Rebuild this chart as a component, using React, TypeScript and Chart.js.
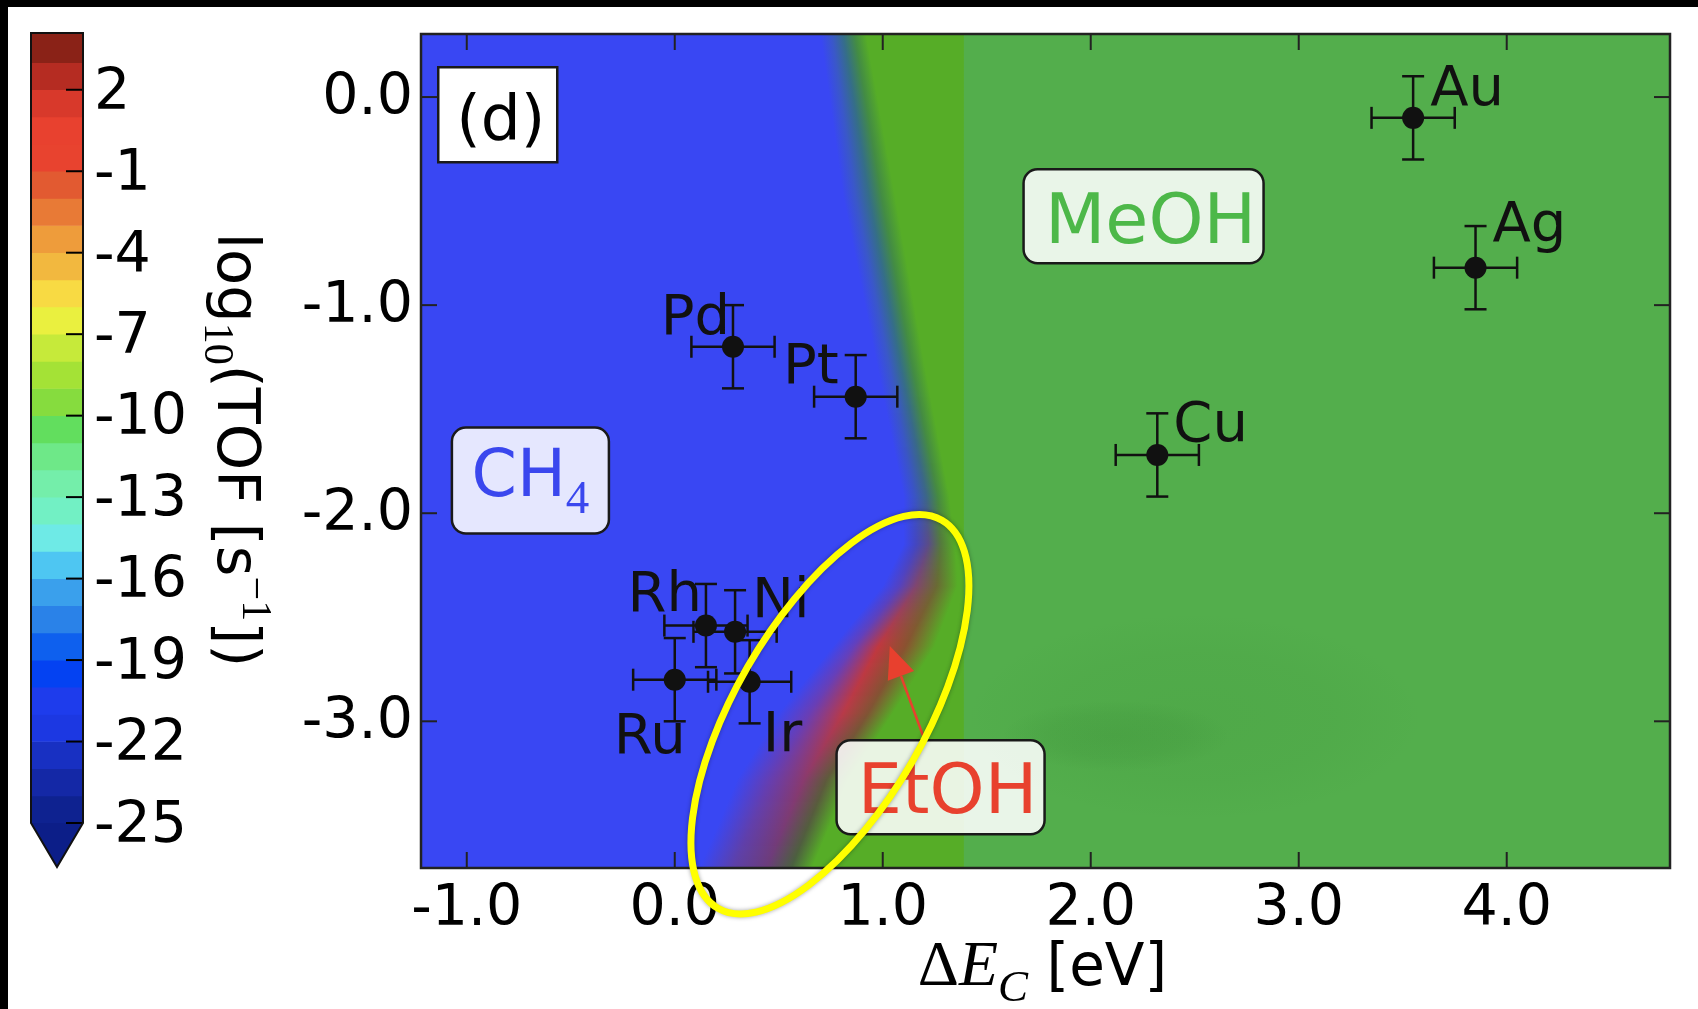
import React, { useEffect, useRef } from 'react';
import { Chart, registerables } from 'chart.js';

Chart.register(...registerables);

const PAGE_W = 1698;
const PAGE_H = 1009;

// ---------------- data: catalysts ----------------
const metalNames = ['Au', 'Ag', 'Cu', 'Pd', 'Pt', 'Rh', 'Ni', 'Ru', 'Ir'];
const metalX = [3.55, 3.85, 2.32, 0.28, 0.87, 0.15, 0.29, 0.0, 0.36];
const metalY = [-0.1, -0.82, -1.72, -1.2, -1.44, -2.54, -2.57, -2.8, -2.81];
const metalXErr = [0.2, 0.2, 0.2, 0.2, 0.2, 0.2, 0.2, 0.2, 0.2];
const metalYErr = [0.2, 0.2, 0.2, 0.2, 0.2, 0.2, 0.2, 0.2, 0.2];

// ---------------- axes ----------------
const xTickValues = [-1, 0, 1, 2, 3, 4];
const yTickValues = [0, -1, -2, -3];
const xLimits = [-1.22, 4.785];
const yLimits = [-3.705, 0.303];

// ---------------- colour bar (log10 TOF levels) ----------------
const cbBandLow = [3, 2, 1, 0, -1, -2, -3, -4, -5, -6, -7, -8, -9, -10, -11, -12, -13, -14, -15, -16, -17, -18, -19, -20, -21, -22, -23, -24, -25];
const cbBandHigh = [4.09, 3, 2, 1, 0, -1, -2, -3, -4, -5, -6, -7, -8, -9, -10, -11, -12, -13, -14, -15, -16, -17, -18, -19, -20, -21, -22, -23, -24];
const cbBandColor = [
  '#8a2217', '#b52c22', '#d8392b', '#e8412f', '#e8432f', '#e25a31', '#e87a36', '#ee9c3b',
  '#f2b83f', '#f8da43', '#eaf03f', '#c6ea3a', '#a4e236', '#86dc3e', '#62de5e', '#6ee888',
  '#74eeaa', '#72f0c4', '#6eeae6', '#4ec6f2', '#3aa0ec', '#2a82e8', '#0e60ee', '#0442f2',
  '#1e3cec', '#1c38e2', '#1830c2', '#1428a6', '#0e2290'
];
const cbTickValues = [2, -1, -4, -7, -10, -13, -16, -19, -22, -25];
const cbLimits = [-25, 4.09];
const cbExtendColor = '#0c1e88';

// ---------------- selectivity map (rows of colour stops, data units) ----------------
const mapRowY = [0.303, -0.48, -1.28, -1.92, -2.15, -2.35, -2.64, -2.96, -3.28, -3.705];
const mapBlueEndX = [0.70, 0.81, 0.97, 1.10, 1.10, 1.00, 0.76, 0.50, 0.30, 0.12];
const mapStop1X = [0.755, 0.87, 1.03, 1.155, 1.16, 1.08, 0.86, 0.65, 0.46, 0.28];
const mapStop2X = [0.81, 0.935, 1.085, 1.21, 1.22, 1.16, 0.98, 0.81, 0.62, 0.44];
const mapStop3X = [0.865, 0.995, 1.14, 1.265, 1.28, 1.26, 1.11, 0.93, 0.73, 0.56];
const mapGreenStartX = [0.92, 1.06, 1.20, 1.32, 1.35, 1.36, 1.25, 1.05, 0.84, 0.66];
const mapStop1Color = ['#3a58c8', '#3a58c8', '#3a58c8', '#3a54c4', '#4446c0', '#5542c0', '#6440bc', '#6a3eb4', '#663eb0', '#5c40a8'];
const mapStop2Color = ['#356e88', '#356e88', '#356e88', '#3c6688', '#5a4c88', '#80466e', '#c0383e', '#b83a48', '#8a3a6e', '#6a3c7c'];
const mapStop3Color = ['#438c44', '#438c44', '#438c44', '#468a42', '#557a3c', '#6a6a34', '#8a5230', '#805434', '#5e5a3c', '#4a6040'];
const mapPhaseStepX = 1.39;
const mapBlue = '#3947f3';
const mapYellowGreen = '#56ad27';
const mapGreen = '#53ae4c';
const blobX = [2.5, 2.12];
const blobY = [-2.98, -3.07];
const blobRX = [1.1, 0.55];
const blobRY = [0.5, 0.17];
const blobAlpha = [0.07, 0.12];

// ---------------- annotations (layout / style) ----------------
const labelPlacement = [
  { align: 'left', dx: 17, dy: -13 },
  { align: 'left', dx: 17, dy: -27 },
  { align: 'left', dx: 16, dy: -14 },
  { align: 'right', dx: -3, dy: -13 },
  { align: 'right', dx: -17, dy: -14 },
  { align: 'right', dx: -4, dy: -15 },
  { align: 'left', dx: 17, dy: -15 },
  { align: 'right', dx: 11, dy: 73 },
  { align: 'left', dx: 13, dy: 69 }
];
const boxes = [
  { x: -0.851, y: -0.085, w: 119, h: 95, r: 0, fill: '#ffffff', color: '#000', size: 63, parts: [{ t: '(d)' }], base: 24, dx: 3 },
  { x: -0.694, y: -1.843, w: 157, h: 106, r: 14, fill: 'rgba(255,255,255,0.87)', color: '#3a47ee', size: 65, parts: [{ t: 'CH' }, { t: '4', sub: true }], base: 15, dx: 0 },
  { x: 2.254, y: -0.573, w: 240, h: 94, r: 14, fill: 'rgba(255,255,255,0.87)', color: '#4db849', size: 70, parts: [{ t: 'MeOH' }], base: 27, dx: 7 },
  { x: 1.278, y: -3.317, w: 208, h: 94, r: 14, fill: 'rgba(255,255,255,0.87)', color: '#e8412e', size: 70, parts: [{ t: 'EtOH' }], base: 26, dx: 7 }
];
const arrowTip = { x: 1.034, y: -2.638 };
const arrowTail = { x: 1.202, y: -3.091 };
const ellipseCenter = { x: 0.746, y: -2.966 };

function hexRgb(h: string) {
  const n = parseInt(h.slice(1), 16);
  return [(n >> 16) & 255, (n >> 8) & 255, n & 255];
}
function mixHex(a: string, b: string, t: number) {
  const A = hexRgb(a), B = hexRgb(b);
  const c = A.map((v, i) => Math.round(v + (B[i] - v) * t));
  return `rgb(${c[0]},${c[1]},${c[2]})`;
}
function interpRow(y: number) {
  const n = mapRowY.length;
  let i = 0, t = 0;
  if (y >= mapRowY[0]) { i = 0; t = 0; }
  else if (y <= mapRowY[n - 1]) { i = n - 2; t = 1; }
  else {
    for (i = 0; i < n - 1; i++) if (y <= mapRowY[i] && y >= mapRowY[i + 1]) break;
    t = (mapRowY[i] - y) / (mapRowY[i] - mapRowY[i + 1]);
  }
  const L = (arr: number[]) => arr[i] + (arr[i + 1] - arr[i]) * t;
  const C = (arr: string[]) => mixHex(arr[i], arr[i + 1], t);
  return {
    be: L(mapBlueEndX), s1: L(mapStop1X), s2: L(mapStop2X), s3: L(mapStop3X), gs: L(mapGreenStartX),
    c1: C(mapStop1Color), c2: C(mapStop2Color), c3: C(mapStop3Color)
  };
}

function line(ctx: CanvasRenderingContext2D, x1: number, y1: number, x2: number, y2: number) {
  ctx.beginPath(); ctx.moveTo(x1, y1); ctx.lineTo(x2, y2); ctx.stroke();
}
function roundRect(ctx: CanvasRenderingContext2D, x: number, y: number, w: number, h: number, r: number) {
  ctx.beginPath();
  ctx.moveTo(x + r, y);
  ctx.lineTo(x + w - r, y); ctx.arcTo(x + w, y, x + w, y + r, r);
  ctx.lineTo(x + w, y + h - r); ctx.arcTo(x + w, y + h, x + w - r, y + h, r);
  ctx.lineTo(x + r, y + h); ctx.arcTo(x, y + h, x, y + h - r, r);
  ctx.lineTo(x, y + r); ctx.arcTo(x, y, x + r, y, r);
  ctx.closePath();
}
type Part = { text: string; font: string; dy: number };
function richWidth(ctx: CanvasRenderingContext2D, parts: Part[]) {
  let w = 0;
  for (const p of parts) { ctx.font = p.font; w += ctx.measureText(p.text).width; }
  return w;
}
function drawRich(ctx: CanvasRenderingContext2D, parts: Part[], x: number, y: number) {
  for (const p of parts) { ctx.font = p.font; ctx.fillText(p.text, x, y + p.dy); x += ctx.measureText(p.text).width; }
}

const mapPlugin = {
  id: 'selectivityMap',
  beforeDatasetsDraw(chart: any) {
    const { ctx, chartArea: a, scales } = chart;
    const xs = scales.x, ys = scales.y;
    ctx.save();
    ctx.beginPath(); ctx.rect(a.left, a.top, a.right - a.left, a.bottom - a.top); ctx.clip();
    ctx.fillStyle = mapGreen;
    ctx.fillRect(a.left, a.top, a.right - a.left, a.bottom - a.top);
    const xStep = xs.getPixelForValue(mapPhaseStepX);
    ctx.save();
    ctx.beginPath(); ctx.rect(xStep, a.top, a.right - xStep, a.bottom - a.top); ctx.clip();
    blobX.forEach((bx, i) => {
      const cx = xs.getPixelForValue(bx), cy = ys.getPixelForValue(blobY[i]);
      const rx = Math.abs(xs.getPixelForValue(bx + blobRX[i]) - cx);
      const ry = Math.abs(ys.getPixelForValue(blobY[i] + blobRY[i]) - cy);
      ctx.save();
      ctx.translate(cx, cy); ctx.scale(1, ry / rx);
      const g = ctx.createRadialGradient(0, 0, 0, 0, 0, rx);
      g.addColorStop(0, `rgba(30,105,30,${blobAlpha[i]})`);
      g.addColorStop(0.6, `rgba(30,105,30,${blobAlpha[i] * 0.65})`);
      g.addColorStop(1, 'rgba(30,105,30,0)');
      ctx.fillStyle = g;
      ctx.beginPath(); ctx.arc(0, 0, rx, 0, Math.PI * 2); ctx.fill();
      ctx.restore();
    });
    ctx.restore();
    const xL = a.left;
    const span = xStep - xL;
    const tOf = (v: number) => Math.min(1, Math.max(0, (xs.getPixelForValue(v) - xL) / span));
    for (let py = Math.floor(a.top); py < a.bottom; py++) {
      const r = interpRow(ys.getValueForPixel(py + 0.5));
      const g = ctx.createLinearGradient(xL, 0, xStep, 0);
      g.addColorStop(0, mapBlue);
      g.addColorStop(tOf(r.be), mapBlue);
      g.addColorStop(tOf(r.s1), r.c1);
      g.addColorStop(tOf(r.s2), r.c2);
      g.addColorStop(tOf(r.s3), r.c3);
      g.addColorStop(tOf(r.gs), mapYellowGreen);
      g.addColorStop(1, mapYellowGreen);
      ctx.fillStyle = g;
      ctx.fillRect(xL, py, span, 1);
    }
    ctx.restore();

    ctx.save();
    ctx.strokeStyle = '#111';
    ctx.lineWidth = 2.5;
    const cap = 11;
    metalNames.forEach((_, i) => {
      const px = xs.getPixelForValue(metalX[i]), py = ys.getPixelForValue(metalY[i]);
      const x0 = xs.getPixelForValue(metalX[i] - metalXErr[i]), x1 = xs.getPixelForValue(metalX[i] + metalXErr[i]);
      const y0 = ys.getPixelForValue(metalY[i] - metalYErr[i]), y1 = ys.getPixelForValue(metalY[i] + metalYErr[i]);
      line(ctx, x0, py, x1, py);
      line(ctx, px, y0, px, y1);
      line(ctx, x0, py - cap, x0, py + cap);
      line(ctx, x1, py - cap, x1, py + cap);
      line(ctx, px - cap, y0, px + cap, y0);
      line(ctx, px - cap, y1, px + cap, y1);
    });
    ctx.restore();
  },
  afterDatasetsDraw(chart: any) {
    const { ctx, chartArea: a, scales } = chart;
    const xs = scales.x, ys = scales.y;
    ctx.save();
    ctx.fillStyle = '#111';
    ctx.font = '56px "DejaVu Sans"';
    ctx.textBaseline = 'alphabetic';
    metalNames.forEach((n, i) => {
      const px = xs.getPixelForValue(metalX[i]), py = ys.getPixelForValue(metalY[i]);
      const st = labelPlacement[i];
      ctx.textAlign = st.align as CanvasTextAlign;
      ctx.fillText(n, px + st.dx, py + st.dy);
    });
    const tx = xs.getPixelForValue(arrowTip.x), ty = ys.getPixelForValue(arrowTip.y);
    const sx = xs.getPixelForValue(arrowTail.x), sy = ys.getPixelForValue(arrowTail.y);
    const ang = Math.atan2(ty - sy, tx - sx);
    const hl = 32, hw = 14;
    const bx = tx - hl * Math.cos(ang), by = ty - hl * Math.sin(ang);
    ctx.strokeStyle = '#e8402e'; ctx.fillStyle = '#e8402e'; ctx.lineWidth = 2.5;
    line(ctx, sx, sy, bx, by);
    ctx.beginPath();
    ctx.moveTo(tx, ty);
    ctx.lineTo(bx + hw * Math.sin(ang), by - hw * Math.cos(ang));
    ctx.lineTo(bx - hw * Math.sin(ang), by + hw * Math.cos(ang));
    ctx.closePath(); ctx.fill();
    ctx.textAlign = 'left';
    boxes.forEach((b) => {
      const cx = xs.getPixelForValue(b.x), cy = ys.getPixelForValue(b.y);
      const x = cx - b.w / 2, y = cy - b.h / 2;
      if (b.r > 0) roundRect(ctx, x, y, b.w, b.h, b.r); else { ctx.beginPath(); ctx.rect(x, y, b.w, b.h); }
      ctx.fillStyle = b.fill; ctx.fill();
      ctx.strokeStyle = '#1a1a1a'; ctx.lineWidth = 2.5; ctx.stroke();
      const parts: Part[] = b.parts.map((p: any) => p.sub
        ? { text: p.t, font: `${Math.round(b.size * 0.72)}px "Liberation Serif"`, dy: 17 }
        : { text: p.t, font: `${b.size}px "DejaVu Sans"`, dy: 0 });
      const w = richWidth(ctx, parts);
      ctx.fillStyle = b.color;
      drawRich(ctx, parts, cx - w / 2 + b.dx, cy + b.base);
    });
    ctx.strokeStyle = '#222'; ctx.lineWidth = 2;
    const tl = 16;
    xTickValues.forEach((v) => {
      const p = xs.getPixelForValue(v);
      line(ctx, p, a.bottom, p, a.bottom - tl);
      line(ctx, p, a.top, p, a.top + tl);
    });
    yTickValues.forEach((v) => {
      const p = ys.getPixelForValue(v);
      line(ctx, a.left, p, a.left + tl, p);
      line(ctx, a.right, p, a.right - tl, p);
    });
    ctx.lineWidth = 2.5;
    ctx.strokeRect(a.left, a.top, a.right - a.left, a.bottom - a.top);
    ctx.restore();
  },
  afterDraw(chart: any) {
    const { ctx, chartArea: a, scales } = chart;
    const xs = scales.x, ys = scales.y;
    ctx.save();
    const parts: Part[] = [
      { text: 'Δ', font: '64px "Liberation Serif"', dy: 0 },
      { text: 'E', font: 'italic 64px "Liberation Serif"', dy: 0 },
      { text: 'C', font: 'italic 45px "Liberation Serif"', dy: 16 },
      { text: ' [eV]', font: '58px "DejaVu Sans"', dy: 0 }
    ];
    ctx.fillStyle = '#000';
    ctx.textAlign = 'left'; ctx.textBaseline = 'alphabetic';
    const w = richWidth(ctx, parts);
    drawRich(ctx, parts, (a.left + a.right) / 2 - w / 2 - 3, 985);
    const cx = xs.getPixelForValue(ellipseCenter.x), cy = ys.getPixelForValue(ellipseCenter.y);
    ctx.shadowColor = 'rgba(0,0,0,0.35)';
    ctx.shadowBlur = 4;
    ctx.strokeStyle = '#ffff00';
    ctx.lineWidth = 7;
    ctx.beginPath();
    ctx.ellipse(cx, cy, 224, 95, -Math.PI / 3, 0, Math.PI * 2);
    ctx.stroke();
    ctx.restore();
  }
};

const cbPlugin = {
  id: 'colorbarDecor',
  afterDatasetsDraw(chart: any) {
    const { ctx, chartArea: a, scales } = chart;
    const y = scales.y;
    const cx = (a.left + a.right) / 2;
    const tipY = a.bottom + 44;
    ctx.save();
    ctx.fillStyle = cbExtendColor;
    ctx.beginPath(); ctx.moveTo(a.left, a.bottom); ctx.lineTo(a.right, a.bottom); ctx.lineTo(cx, tipY); ctx.closePath(); ctx.fill();
    ctx.strokeStyle = '#000'; ctx.lineWidth = 2;
    cbTickValues.forEach((v) => { const p = y.getPixelForValue(v); line(ctx, a.right, p, a.right - 17, p); });
    ctx.strokeStyle = '#111'; ctx.lineWidth = 2;
    ctx.beginPath();
    ctx.moveTo(a.left, a.top); ctx.lineTo(a.right, a.top); ctx.lineTo(a.right, a.bottom);
    ctx.lineTo(cx, tipY); ctx.lineTo(a.left, a.bottom); ctx.closePath(); ctx.stroke();
    ctx.restore();
  },
  afterDraw(chart: any) {
    const { ctx, chartArea: a } = chart;
    const parts: Part[] = [
      { text: 'log', font: '59px "DejaVu Sans"', dy: 0 },
      { text: '10', font: '42px "Liberation Serif"', dy: 13 },
      { text: '(TOF [s', font: '59px "DejaVu Sans"', dy: 0 },
      { text: '−1', font: '42px "Liberation Serif"', dy: -25 },
      { text: '])', font: '59px "DejaVu Sans"', dy: 0 }
    ];
    ctx.save();
    ctx.fillStyle = '#000';
    ctx.textAlign = 'left'; ctx.textBaseline = 'alphabetic';
    const w = richWidth(ctx, parts);
    ctx.translate(218, (a.top + a.bottom + 44) / 2);
    ctx.rotate(Math.PI / 2);
    drawRich(ctx, parts, -w / 2, 0);
    ctx.restore();
  }
};

function noEdgePadding(s: any) {
  s.paddingTop = 0; s.paddingBottom = 0; s.paddingLeft = 0; s.paddingRight = 0;
}

export default function App() {
  const mainRef = useRef<HTMLCanvasElement>(null);
  const cbRef = useRef<HTMLCanvasElement>(null);

  useEffect(() => {
    Chart.defaults.font.family = 'DejaVu Sans';
    const main = new Chart(mainRef.current as HTMLCanvasElement, {
      type: 'scatter',
      data: {
        datasets: [{
          data: metalNames.map((_, i) => ({ x: metalX[i], y: metalY[i] })),
          pointRadius: 11,
          pointHoverRadius: 11,
          backgroundColor: '#111',
          borderWidth: 0
        }]
      },
      options: {
        responsive: false,
        animation: false,
        devicePixelRatio: 1,
        events: [],
        layout: { padding: { left: 0, top: 34, right: 28, bottom: 0 } },
        plugins: { legend: { display: false }, tooltip: { enabled: false } },
        scales: {
          x: {
            type: 'linear', min: xLimits[0], max: xLimits[1],
            grid: { display: false, drawTicks: false }, border: { display: false },
            afterBuildTicks: (s: any) => { s.ticks = xTickValues.map((v) => ({ value: v })); },
            afterFit: (s: any) => { s.height = PAGE_H - 868; noEdgePadding(s); },
            ticks: { font: { family: 'DejaVu Sans', size: 57 }, color: '#000', padding: 8, maxRotation: 0, autoSkip: false, callback: (v: any) => Number(v).toFixed(1) }
          },
          y: {
            type: 'linear', min: yLimits[0], max: yLimits[1],
            grid: { display: false, drawTicks: false }, border: { display: false },
            afterBuildTicks: (s: any) => { s.ticks = yTickValues.map((v) => ({ value: v })); },
            afterFit: (s: any) => { s.width = 421; noEdgePadding(s); },
            ticks: { font: { family: 'DejaVu Sans', size: 57 }, color: '#000', padding: 8, labelOffset: 2, autoSkip: false, callback: (v: any) => Number(v).toFixed(1) }
          }
        }
      } as any,
      plugins: [mapPlugin]
    });

    const cb = new Chart(cbRef.current as HTMLCanvasElement, {
      type: 'bar',
      data: {
        labels: ['TOF'],
        datasets: cbBandLow.map((lo, i) => ({
          data: [[lo, cbBandHigh[i]]],
          backgroundColor: cbBandColor[i],
          borderWidth: 0,
          grouped: false,
          barPercentage: 1,
          categoryPercentage: 1
        }))
      } as any,
      options: {
        responsive: false,
        animation: false,
        devicePixelRatio: 1,
        events: [],
        layout: { padding: { left: 31, top: 33, right: 330 - 83 - 120, bottom: PAGE_H - 823 } },
        plugins: { legend: { display: false }, tooltip: { enabled: false } },
        scales: {
          x: { display: false },
          y: {
            position: 'right', min: cbLimits[0], max: cbLimits[1],
            grid: { display: false, drawTicks: false }, border: { display: false },
            afterBuildTicks: (s: any) => { s.ticks = cbTickValues.map((v) => ({ value: v })); },
            afterFit: (s: any) => { s.width = 120; noEdgePadding(s); },
            ticks: { font: { family: 'DejaVu Sans', size: 57 }, color: '#000', padding: 11, labelOffset: 4, autoSkip: false, callback: (v: any) => String(v) }
          }
        }
      } as any,
      plugins: [cbPlugin]
    });

    return () => { main.destroy(); cb.destroy(); };
  }, []);

  return (
    <div style={{ position: 'fixed', left: 0, top: 0, width: PAGE_W, height: PAGE_H, background: '#fff', overflow: 'hidden' }}>
      <canvas ref={cbRef} width={330} height={PAGE_H} style={{ position: 'absolute', left: 0, top: 0 }} />
      <canvas ref={mainRef} width={PAGE_W} height={PAGE_H} style={{ position: 'absolute', left: 0, top: 0 }} />
      <div style={{ position: 'absolute', left: 0, top: 0, width: PAGE_W, height: 7, background: '#000' }} />
      <div style={{ position: 'absolute', left: 0, top: 0, width: 8, height: PAGE_H, background: '#000' }} />
    </div>
  );
}
